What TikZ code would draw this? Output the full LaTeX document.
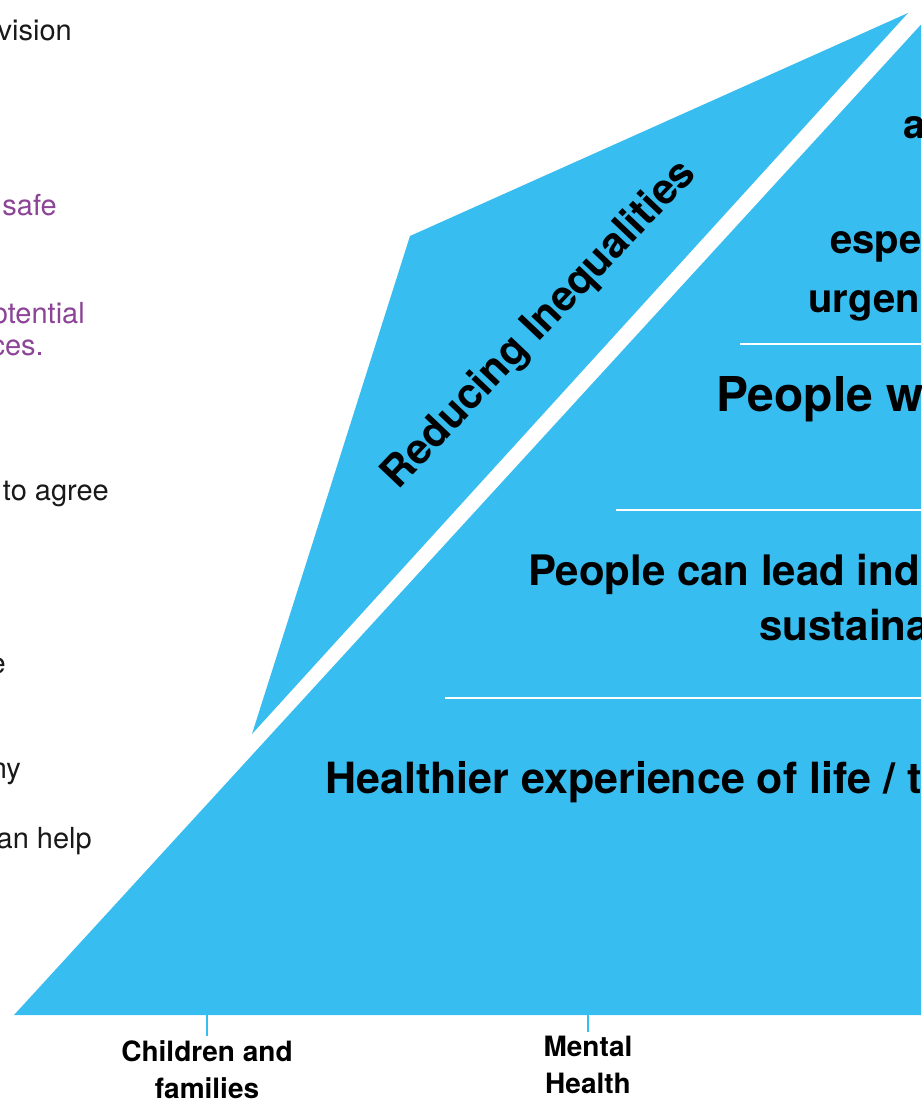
\documentclass[tikz,border=0pt]{standalone}
\usepackage{fontspec}
\setmainfont{TeX Gyre Heros}
\definecolor{skyblue}{RGB}{56,189,240}
\definecolor{plum}{RGB}{139,68,150}
\definecolor{ink}{RGB}{25,25,25}

\begin{document}
\begin{tikzpicture}[x=1pt, y=-1pt,
		side/.style={inner sep=0pt, anchor=base east, text=ink, font=\fontsize{29}{32}\selectfont},
		goal/.style={inner sep=0pt, anchor=base west, font=\fontsize{42}{48}\selectfont\bfseries},
		area/.style={inner sep=0pt, align=center, anchor=north, font=\fontsize{28}{37}\selectfont\bfseries},
		rule/.style={white, line width=2pt},
		tick/.style={skyblue, line width=1.6pt, shorten >=4pt}]
		\useasboundingbox (0,0) rectangle (921,1099);
		\clip (0,0) rectangle (921,1099);
		% pyramid
		\coordinate (foot) at (14,1015);
		\coordinate (peak) at (960,-18);
		\fill[skyblue] (foot) -- (peak) -- (960,1015) -- cycle;
		\coordinate (tip) at (252,734);
		\coordinate (knee) at (410,236);
		\coordinate (top) at (908,13);
		\fill[skyblue] (tip) -- (knee) -- (top) -- cycle;
		\draw[rule] (740,344) -- (921,344);
		\draw[rule] (616,510) -- (921,510);
		\draw[rule] (445,698) -- (921,698);
		\node[rotate=46.5, inner sep=0pt, font=\fontsize{42}{46}\selectfont\bfseries] (ineq) at (540,325) {Reducing Inequalities};
		% outcomes
		\node[goal, font=\fontsize{40}{44}\selectfont\bfseries] (g1) at (903,139) {a};
		\node[goal, font=\fontsize{40}{44}\selectfont\bfseries] (g2) at (830,254) {espe};
		\node[goal, font=\fontsize{40}{44}\selectfont\bfseries] (g3) at (808,312) {urgen};
		\node[goal, font=\fontsize{48}{52}\selectfont\bfseries] (g4) at (716,411) {People w};
		\node[goal] (g5) at (528,585) {People can lead ind};
		\node[goal] (g6) at (759,640) {sustaina};
		\node[goal, font=\fontsize{43}{48}\selectfont\bfseries] (g7) at (325,793) {Healthier experience of life / t};
		% left column
		\node[side] (s1) at (72,41) {vision};
		\node[side, text=plum] (s2) at (57,216) {safe};
		\node[side, text=plum] (s3) at (85,323) {otential};
		\node[side, text=plum] (s4) at (44,355) {ces.};
		\node[side] (s5) at (109,500) {to agree};
		\node[side] (s6) at (6,673) {e};
		\node[side] (s7) at (21,778) {ny};
		\node[side] (s8) at (92,848) {an help};
		% areas
		\coordinate (cf) at (207,1015);
		\coordinate (mh) at (588,1015);
		\node[area] (children) at (207,1040) {Children and\\families};
		\node[area] (mental) at (588,1036) {Mental\\Health};
		\draw[tick] (cf) -- (children.north);
		\draw[tick] (mh) -- (mental.north);
\end{tikzpicture}
\end{document}
